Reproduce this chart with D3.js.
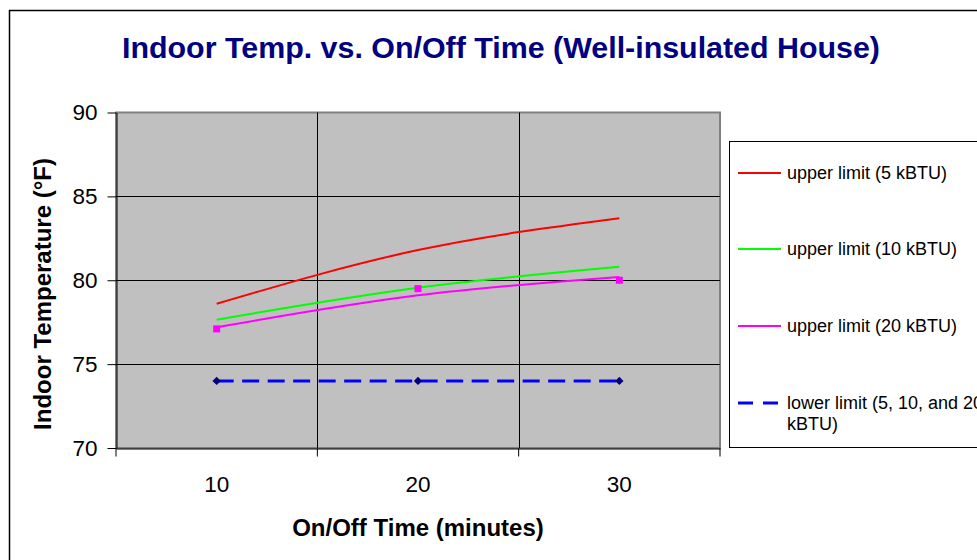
<!DOCTYPE html>
<html>
<head>
<meta charset="utf-8">
<script src="https://cdn.jsdelivr.net/npm/d3@7"></script>
<style>
	body { margin: 0; background: #fff; }
	svg { display: block; font-family: 'Liberation Sans', Arial, sans-serif; }
</style>
</head>
<body>
<script>
// data
const minutes = ['10', '20', '30']
const upper5 = [78.6, 81.8, 83.7]
const upper10 = [77.65, 79.55, 80.8]
const upper20 = [77.2, 79.1, 80.2]
const upper20Marks = [77.1, 79.5, 80.0]
const lower = [74, 74, 74]
const yTicks = [70, 75, 80, 85, 90]

const series = [
	{ name: 'upper limit (5 kBTU)', values: upper5, color: '#ff0000' },
	{ name: 'upper limit (10 kBTU)', values: upper10, color: '#00ff00' },
	{ name: 'upper limit (20 kBTU)', values: upper20, color: '#ff00ff' },
	{ name: 'lower limit (5, 10, and 20 kBTU)', values: lower, color: '#0000ff', dash: true },
]

const width = 977, height = 560
const svg = d3.select('body').append('svg').attr('width', width).attr('height', height)

// outer chart frame (runs off the right / bottom like the screenshot)
svg.append('rect').attr('x', 9.5).attr('y', 10.5).attr('width', 1000).attr('height', 600)
	.attr('fill', '#fff').attr('stroke', '#000').attr('stroke-width', 1.5)

const plot = { left: 116, right: 720, top: 112.5, bottom: 448 }
const x = d3.scaleBand().domain(minutes).range([plot.left, plot.right])
const xc = d => x(d) + x.bandwidth() / 2
const y = d3.scaleLinear().domain([70, 90]).range([plot.bottom, plot.top])

svg.append('text').attr('x', 501).attr('y', 58).attr('text-anchor', 'middle')
	.attr('fill', '#000080').attr('font-weight', 'bold').attr('font-size', 29)
	.attr('textLength', 758).attr('lengthAdjust', 'spacingAndGlyphs')
	.text('Indoor Temp. vs. On/Off Time (Well-insulated House)')

// plot area
svg.append('rect').attr('x', plot.left).attr('y', plot.top)
	.attr('width', plot.right - plot.left).attr('height', plot.bottom - plot.top)
	.attr('fill', '#c0c0c0').attr('stroke', '#808080').attr('stroke-width', 2)

const grid = svg.append('g').attr('stroke', '#000').attr('stroke-width', 1)
grid.selectAll('line.h').data(yTicks.slice(1, -1)).join('line').classed('h', true)
	.attr('x1', plot.left).attr('x2', plot.right)
	.attr('y1', d => Math.round(y(d)) + 0.5).attr('y2', d => Math.round(y(d)) + 0.5)
grid.selectAll('line.v').data(minutes.slice(1)).join('line').classed('v', true)
	.attr('x1', d => Math.round(x(d)) + 0.5).attr('x2', d => Math.round(x(d)) + 0.5)
	.attr('y1', plot.top).attr('y2', plot.bottom)

// axes
const yAxis = svg.append('g').attr('transform', `translate(${plot.left + 0.5},0)`)
	.call(d3.axisLeft(y).tickValues(yTicks).tickSize(9).tickPadding(10).tickSizeOuter(0))
const xAxis = svg.append('g').attr('transform', `translate(0,${plot.bottom + 0.5})`)
	.call(d3.axisBottom(x).tickSize(0).tickPadding(30).tickSizeOuter(0))
xAxis.selectAll('.tick').append('line')
	.attr('x1', -x.bandwidth() / 2).attr('x2', -x.bandwidth() / 2).attr('y2', 8).attr('stroke', '#000')
xAxis.append('line').attr('x1', plot.right).attr('x2', plot.right).attr('y2', 8).attr('stroke', '#000')
for (const ax of [yAxis, xAxis]) {
	ax.selectAll('path.domain').attr('stroke', '#000')
	ax.selectAll('.tick line').attr('stroke', '#000')
	ax.selectAll('text').attr('font-size', 22.5).attr('fill', '#000')
		.attr('font-family', "'Liberation Sans', Arial, sans-serif")
}
xAxis.selectAll('.tick text').attr('dy', '0.62em')

svg.append('text').attr('transform', 'translate(51,294) rotate(-90)').attr('text-anchor', 'middle')
	.attr('font-weight', 'bold').attr('font-size', 24).text('Indoor Temperature (°F)')
svg.append('text').attr('x', 418).attr('y', 536).attr('text-anchor', 'middle')
	.attr('font-weight', 'bold').attr('font-size', 24).text('On/Off Time (minutes)')

// series (smoothed like the spreadsheet: steeper at the start, no S-bend)
const line = d3.line().x((_, i) => xc(minutes[i])).y(d => y(d)).curve(d3.curveMonotoneX)
svg.selectAll('path.series').data(series).join('path').classed('series', true)
	.attr('d', d => line(d.values)).attr('fill', 'none')
	.attr('stroke', d => d.color).attr('stroke-width', d => d.dash ? 3 : 2)
	.attr('stroke-dasharray', d => d.dash ? '17 8.5' : null)

svg.selectAll('rect.mark').data(upper20Marks).join('rect').classed('mark', true)
	.attr('x', (_, i) => xc(minutes[i]) - 3.5).attr('y', d => y(d) - 3.5)
	.attr('width', 7).attr('height', 7).attr('fill', '#ff00ff')
svg.selectAll('path.diamond').data(lower).join('path').classed('diamond', true)
	.attr('d', d3.symbol(d3.symbolDiamond2, 45))
	.attr('transform', (d, i) => `translate(${xc(minutes[i])},${y(d)})`)
	.attr('fill', '#000080')

// legend
const legend = svg.append('g')
legend.append('rect').attr('x', 729.5).attr('y', 141.5).attr('width', 300).attr('height', 306)
	.attr('fill', '#fff').attr('stroke', '#000').attr('stroke-width', 1)
const legendY = [173, 249, 326, 403]
const item = legend.selectAll('g.item').data(series).join('g').classed('item', true)
	.attr('transform', (_, i) => `translate(0,${legendY[i]})`)
item.append('line').attr('x1', 738).attr('x2', 781)
	.attr('stroke', d => d.color).attr('stroke-width', d => d.dash ? 3 : 2)
	.attr('stroke-dasharray', d => d.dash ? '15 10' : null)
item.append('text').attr('x', 787).attr('font-size', 18).attr('dy', '0.35em')
	.text(d => d.dash ? 'lower limit (5, 10, and 20' : d.name)
item.filter(d => d.dash).append('text').attr('x', 787).attr('y', 21).attr('font-size', 18)
	.attr('dy', '0.35em').text('kBTU)')
</script>
</body>
</html>
